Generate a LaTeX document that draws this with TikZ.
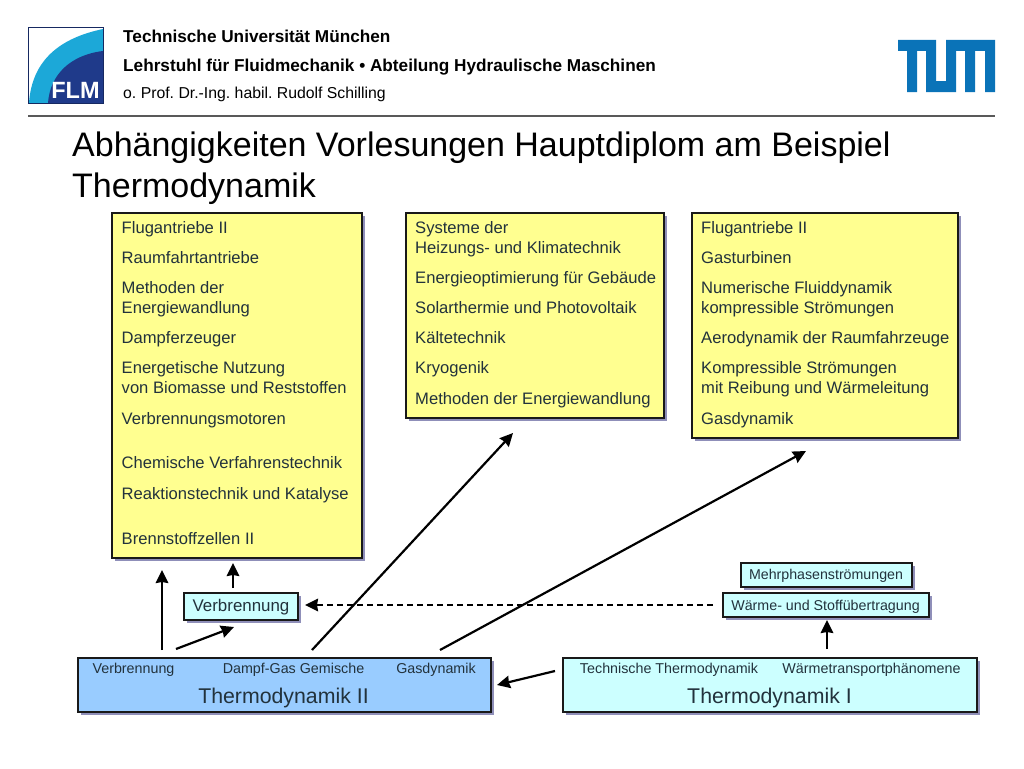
\documentclass[tikz,border=0pt]{standalone}
\usepackage{fontspec}
\setmainfont{Liberation Sans}
\usetikzlibrary{arrows.meta,shadows}
\definecolor{yellowbox}{HTML}{FFFF90}
\definecolor{cyanbox}{HTML}{CCFFFF}
\definecolor{bluebox}{HTML}{99CCFF}
\definecolor{inktext}{HTML}{22323C}
\definecolor{tumblue}{HTML}{0A73B8}
\definecolor{flmdark}{HTML}{1F3A8A}
\definecolor{flmlight}{HTML}{1CA8D8}
\tikzset{
  x=1pt,y=-1pt,
  panel/.style={draw=black!90,line width=1.7pt,inner sep=0pt,anchor=north west,
    drop shadow={shadow xshift=3pt,shadow yshift=-3pt,fill=black!50!blue!60!gray,opacity=.55}},
  item/.style={anchor=base west,inner sep=0pt,text=inktext,font=\fontsize{16.6}{18}\selectfont},
  boxlabel/.style={anchor=base,inner sep=0pt,text=inktext},
  headline/.style={anchor=base west,inner sep=0pt,text=black},
  titleline/.style={anchor=base west,inner sep=0pt,text=black,font=\fontsize{34}{40}\selectfont},
  link/.style={line width=2.2pt,draw=black,-{Stealth[length=13pt,width=12.5pt,inset=1pt]}},
}
\frenchspacing
\begin{document}
\begin{tikzpicture}
\useasboundingbox (0,0) rectangle (1024,768);
\fill[white] (0,0) rectangle (1024,768);
% FLM logo
\fill[white] (28,28) rectangle (103,103);
\fill[flmlight] (29,103) .. controls (32,60) and (60,38) .. (103,29) -- (103,103) -- cycle;
\fill[flmdark] (48,103) .. controls (50,75) and (70,55) .. (103,51) -- (103,103) -- cycle;
\draw[flmdark!70!black,line width=1pt] (28,28) rectangle (103,103);
\node[anchor=base,inner sep=0pt,text=white,font=\bfseries\fontsize{23.5}{24}\selectfont] (flm) at (75.5,98) {FLM};
% TUM logo
\fill[tumblue] (898,40) -- (936,40) -- (936,81) -- (946,81) -- (946,40) -- (995,40) -- (995,92) -- (985,92) -- (985,51) -- (975,51) -- (975,92) -- (965,92) -- (965,51) -- (956,51) -- (956,92) -- (926,92) -- (926,51) -- (917,51) -- (917,92) -- (907,92) -- (907,51) -- (898,51) -- cycle;
% header
\node[headline,font=\bfseries\fontsize{17.2}{18}\selectfont] (h1) at (123,43) {Technische Universität München};
\node[headline,font=\bfseries\fontsize{17.2}{18}\selectfont] (h2) at (123,71) {Lehrstuhl für Fluidmechanik • Abteilung Hydraulische Maschinen};
\node[headline,font=\fontsize{15.8}{18}\selectfont] (h3) at (123,98) {o. Prof. Dr.-Ing. habil. Rudolf Schilling};
\draw[black!65,line width=1.2pt] (28,116) -- (995,116);
\node[titleline] (t1) at (72,156) {Abhängigkeiten Vorlesungen Hauptdiplom am Beispiel};
\node[titleline] (t2) at (72,197) {Thermodynamik};
% panels
\node[panel,fill=yellowbox,minimum width=250pt,minimum height=345pt] (left) at (111,212) {};
\node[panel,fill=yellowbox,minimum width=258pt,minimum height=205pt] (mid) at (405,212) {};
\node[panel,fill=yellowbox,minimum width=266pt,minimum height=225pt] (right) at (691,212) {};
\node[panel,fill=cyanbox,minimum width=114pt,minimum height=27pt] (verb) at (183,592) {};
\node[panel,fill=cyanbox,minimum width=171pt,minimum height=24pt] (mehr) at (740,562) {};
\node[panel,fill=cyanbox,minimum width=206pt,minimum height=24pt] (waerme) at (722,592) {};
\node[panel,fill=bluebox,minimum width=413pt,minimum height=54pt] (td2) at (77,657) {};
\node[panel,fill=cyanbox,minimum width=414pt,minimum height=54pt] (td1) at (562,657) {};
% left list
\foreach \yy/\tx [count=\i] in {
 233.5/Flugantriebe II,
 263.5/Raumfahrtantriebe,
 293.5/Methoden der,
 313.5/Energiewandlung,
 343.5/Dampferzeuger,
 373.5/Energetische Nutzung,
 393.5/von Biomasse und Reststoffen,
 424/Verbrennungsmotoren,
 468.5/Chemische Verfahrenstechnik,
 499/Reaktionstechnik und Katalyse,
 544/Brennstoffzellen II}
 {\node[item] (l\i) at (121.5,\yy) {\tx};}
% middle list
\foreach \yy/\tx [count=\i] in {
 233.5/Systeme der,
 253.5/Heizungs- und Klimatechnik,
 283.5/Energieoptimierung für Gebäude,
 313.5/Solarthermie und Photovoltaik,
 343.5/Kältetechnik,
 373.5/Kryogenik,
 404/Methoden der Energiewandlung}
 {\node[item] (m\i) at (415,\yy) {\tx};}
% right list
\foreach \yy/\tx [count=\i] in {
 233.5/Flugantriebe II,
 263.5/Gasturbinen,
 293.5/Numerische Fluiddynamik,
 313.5/kompressible Strömungen,
 343.5/Aerodynamik der Raumfahrzeuge,
 373.5/Kompressible Strömungen,
 393.5/mit Reibung und Wärmeleitung,
 424/Gasdynamik}
 {\node[item] (r\i) at (701,\yy) {\tx};}
% box labels
\node[boxlabel,font=\fontsize{16.9}{18}\selectfont] (verbt) at (241,611) {Verbrennung};
\node[boxlabel,font=\fontsize{14.2}{16}\selectfont] (mehrt) at (826,579) {Mehrphasenströmungen};
\node[boxlabel,font=\fontsize{14.26}{16}\selectfont] (waermet) at (825.5,610) {Wärme- und Stoffübertragung};
\node[boxlabel,font=\fontsize{14.3}{16}\selectfont] (a1) at (133.5,673) {Verbrennung};
\node[boxlabel,font=\fontsize{14.3}{16}\selectfont] (a2) at (293.5,673) {Dampf-Gas Gemische};
\node[boxlabel,font=\fontsize{14.3}{16}\selectfont] (a3) at (436,673) {Gasdynamik};
\node[boxlabel,font=\fontsize{21.3}{24}\selectfont] (a4) at (283.5,703) {Thermodynamik II};
\node[boxlabel,font=\fontsize{14.3}{16}\selectfont] (b1) at (669,673) {Technische Thermodynamik};
\node[boxlabel,font=\fontsize{14.3}{16}\selectfont] (b2) at (871.5,673) {Wärmetransportphänomene};
\node[boxlabel,font=\fontsize{21.3}{24}\selectfont] (b3) at (769.5,703) {Thermodynamik I};
% connector ends
\coordinate (c1s) at (162,650); \coordinate (c1e) at (162,570);
\coordinate (c2s) at (233,588); \coordinate (c2e) at (233,563);
\coordinate (c3s) at (176,649); \coordinate (c3e) at (234,627);
\coordinate (c4s) at (312,650); \coordinate (c4e) at (513,433);
\coordinate (c5s) at (440,650); \coordinate (c5e) at (806,451);
\coordinate (c6s) at (713,605); \coordinate (c6e) at (305,605);
\coordinate (c7s) at (827,649); \coordinate (c7e) at (827,620);
\coordinate (c8s) at (555,671); \coordinate (c8e) at (497,685);
\draw[link] (c1s) -- (c1e);
\draw[link] (c2s) -- (c2e);
\draw[link] (c3s) -- (c3e);
\draw[link] (c4s) -- (c4e);
\draw[link] (c5s) -- (c5e);
\draw[link,dash pattern=on 6.5pt off 3.5pt] (c6s) -- (c6e);
\draw[link] (c7s) -- (c7e);
\draw[link] (c8s) -- (c8e);
\end{tikzpicture}
\end{document}
